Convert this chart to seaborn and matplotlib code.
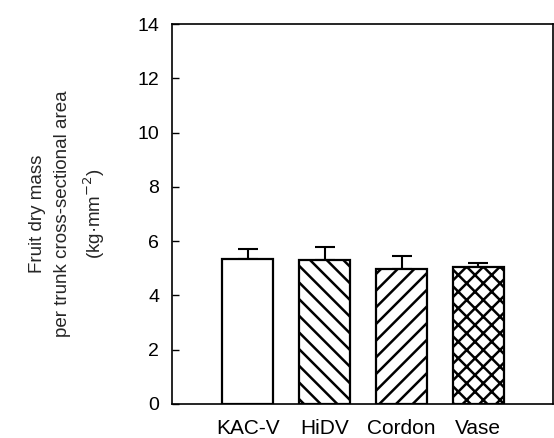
import matplotlib
matplotlib.use("Agg")
import matplotlib.pyplot as plt
import seaborn as sns
import pandas as pd

categories = ["KAC-V", "HiDV", "Cordon", "Vase"]
values = [5.34, 5.32, 4.97, 5.04]
errors = [0.37, 0.46, 0.49, 0.15]
hatches = ["", "\\\\", "//", "xx"]
y_ticks = [0, 2, 4, 6, 8, 10, 12, 14]

sns.set_theme(style="ticks")
plt.rcParams["font.family"] = ["Liberation Sans", "DejaVu Sans"]
plt.rcParams["hatch.linewidth"] = 1.8
plt.rcParams["hatch.color"] = "black"

df = pd.DataFrame({"System": categories, "Mass": values})

fig = plt.figure(figsize=(5.54, 4.38), dpi=100)
ax = fig.add_axes([0.310, 0.078, 0.688, 0.867])

sns.barplot(data=df, x="System", y="Mass", order=categories, color="white",
            edgecolor="black", linewidth=1.6, width=0.66, errorbar=None, ax=ax)

for patch, h in zip(ax.patches, hatches):
    patch.set_hatch(h)
    patch.set_facecolor("white")
    patch.set_edgecolor("black")

xs = [p.get_x() + p.get_width() / 2 for p in ax.patches]
ax.errorbar(xs, values, yerr=[[0] * len(errors), errors], fmt="none",
            ecolor="black", elinewidth=1.5, capsize=7, capthick=1.5, zorder=1)
for p in ax.patches:
    p.set_zorder(2)

ax.set_xlim(-0.99, 3.97)
ax.set_ylim(0, 14)
ax.set_yticks(y_ticks)
ax.set_xlabel("")
ax.set_ylabel("Fruit dry mass\nper trunk cross-sectional area\n(kg·mm$^{-2}$)",
              fontsize=13.5, labelpad=22, linespacing=1.55)
ax.tick_params(axis="y", direction="in", length=5, width=1, labelsize=14, pad=9, colors="black")
ax.tick_params(axis="x", length=0, labelsize=15, pad=11, colors="black")
for s in ax.spines.values():
    s.set_visible(True)
    s.set_color("black")
    s.set_linewidth(1.2)

fig.savefig("out.png", dpi=100)
